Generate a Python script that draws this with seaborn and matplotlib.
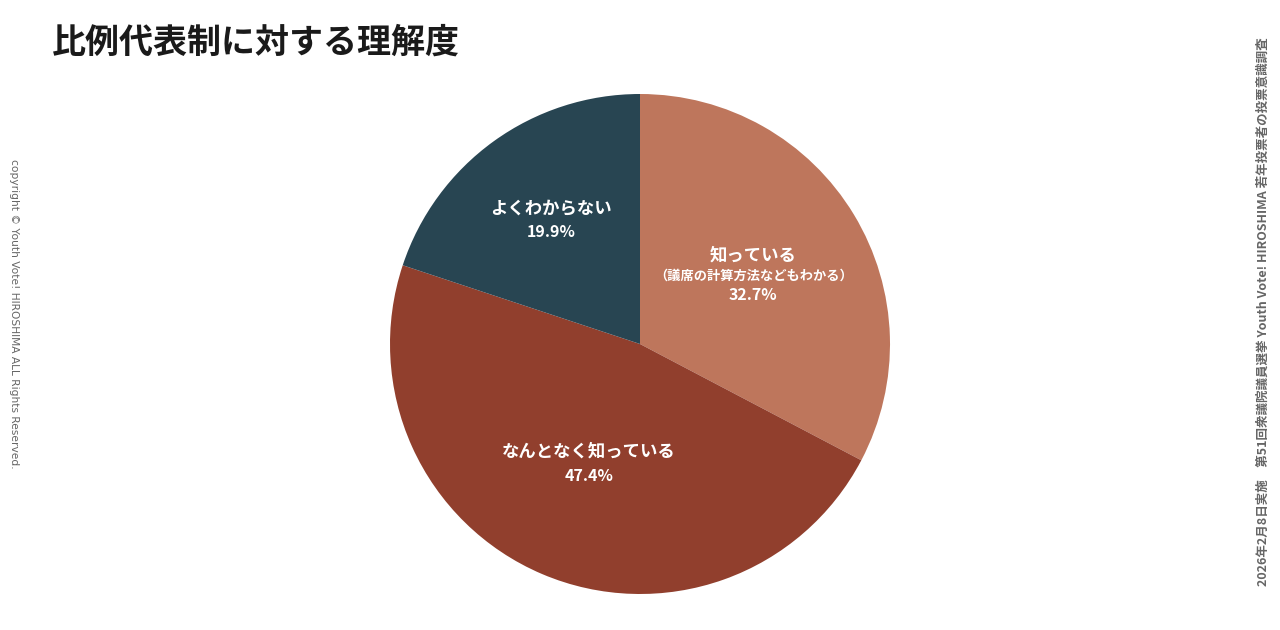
import numpy as np
import seaborn as sns
import matplotlib.pyplot as plt

# data
categories = ["知っている", "なんとなく知っている", "よくわからない"]
sub_labels = ["（議席の計算方法などもわかる）", "", ""]
shares = [32.7, 47.4, 19.9]
colors = ["#BE765C", "#913F2D", "#284552"]
label_radius = [0.53, 0.52, 0.61]

title = "比例代表制に対する理解度"
source = "2026年2月8日実施　第51回衆議院議員選挙 Youth Vote! HIROSHIMA 若年投票者の投票意識調査"
copyright_text = "copyright © Youth Vote! HIROSHIMA ALL Rights Reserved."

sns.set_theme(style="white")
plt.rcParams['font.family'] = ['Noto Sans CJK JP', 'DejaVu Sans']

fig = plt.figure(figsize=(12.8, 6.3), dpi=100)
ax = fig.add_axes([390 / 1280, 36 / 630, 500 / 1280, 500 / 630])

wedges, _ = ax.pie(shares, colors=colors, startangle=90, counterclock=False,
                   wedgeprops={'linewidth': 0})
ax.set_xlim(-1, 1)
ax.set_ylim(-1, 1)
ax.set_aspect('equal')

for w, cat, sub, val, r in zip(wedges, categories, sub_labels, shares, label_radius):
    mid = np.deg2rad((w.theta1 + w.theta2) / 2)
    x, y = r * np.cos(mid), r * np.sin(mid)
    if sub:
        ax.text(x, y + 0.08, cat, ha='center', va='center', color='white', fontsize=12.5, fontweight='bold')
        ax.text(x, y, sub, ha='center', va='center', color='white', fontsize=9.5, fontweight='bold')
        ax.text(x, y - 0.08, f"{val}%", ha='center', va='center', color='white', fontsize=11.5, fontweight='bold')
    else:
        ax.text(x, y + 0.048, cat, ha='center', va='center', color='white', fontsize=12.5, fontweight='bold')
        ax.text(x, y - 0.048, f"{val}%", ha='center', va='center', color='white', fontsize=11.5, fontweight='bold')

fig.text(52 / 1280, 1 - 42 / 630, title, ha='left', va='center', fontsize=24.5,
         fontweight='bold', color='#1a1a1a')
fig.text(1263 / 1280, 1 - 312 / 630, source, rotation=90, ha='center', va='center',
         fontsize=9, fontweight='bold', color='#666666')
fig.text(14 / 1280, 1 - 314 / 630, copyright_text, rotation=270, ha='center', va='center',
         fontsize=7.7, color='#666666', family=['DejaVu Sans'])

fig.savefig("out.png", dpi=100)
